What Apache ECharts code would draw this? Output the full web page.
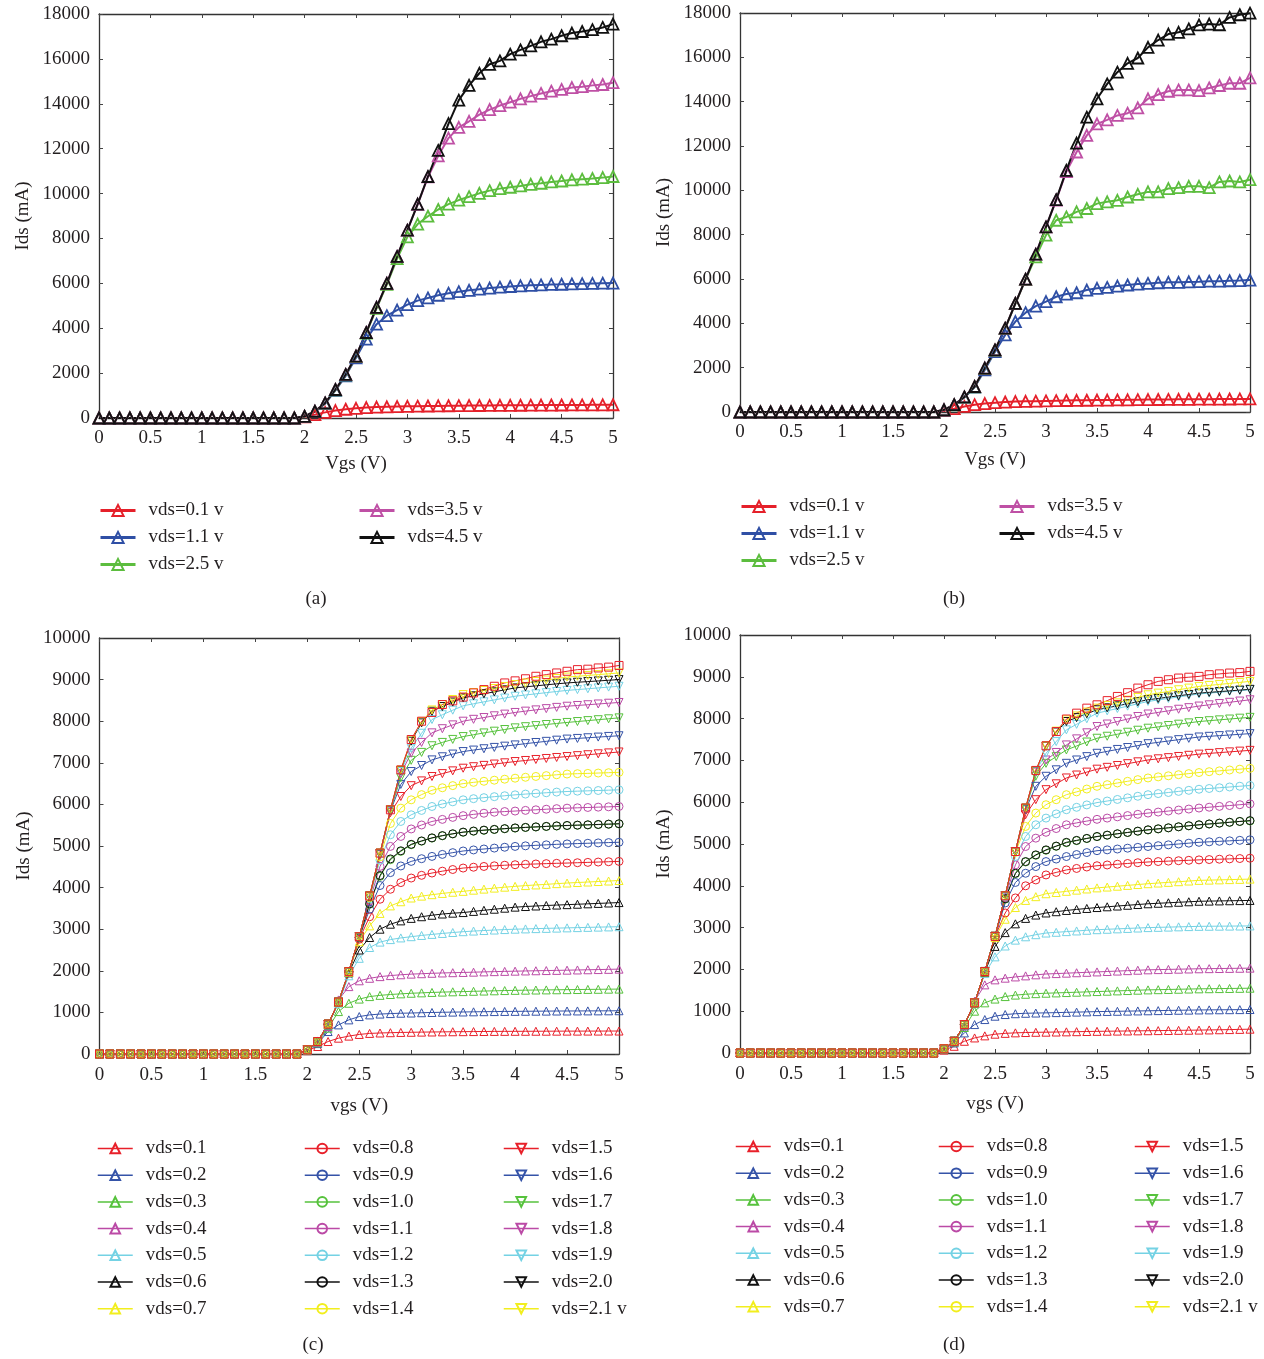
<!DOCTYPE html>
<html><head><meta charset="utf-8">
<script src="https://cdn.jsdelivr.net/npm/echarts@6/dist/echarts.min.js"></script>
<style>html,body{margin:0;padding:0;background:#fff}#c{width:1264px;height:1359px}</style>
</head><body><div id="c"></div><script>
// ---------- DATA ----------
const vgs = [0,0.1,0.2,0.3,0.4,0.5,0.6,0.7,0.8,0.9,1.0,1.1,1.2,1.3,1.4,1.5,1.6,1.7,1.8,1.9,
  2.0,2.1,2.2,2.3,2.4,2.5,2.6,2.7,2.8,2.9,3.0,3.1,3.2,3.3,3.4,3.5,3.6,3.7,3.8,3.9,
  4.0,4.1,4.2,4.3,4.4,4.5,4.6,4.7,4.8,4.9,5.0];
// Ids below threshold (vgs = 0 ... 1.9 V), read as ~0 mA in every panel
const offRegion = [0,0,0,0,0,0,0,0,0,0,0,0,0,0,0,0,0,0,0,0];
// The following arrays hold Ids (mA) for vgs = 2.0 ... 5.0 V
const namesAB = ['vds=0.1 v','vds=1.1 v','vds=2.5 v','vds=3.5 v','vds=4.5 v'];
const xTicks = ['0','0.5','1','1.5','2','2.5','3','3.5','4','4.5','5'];
const yTicksAB = [0,2000,4000,6000,8000,10000,12000,14000,16000,18000];
const yTicksCD = [0,1000,2000,3000,4000,5000,6000,7000,8000,9000,10000];

// panel (a)
const a_vds01 = [50,150,250,330,390,430,465,485,500,510,520,528,535,540,545,550,553,556,560,563,566,569,572,575,578,580,582,584,586,588,590];
const a_vds11 = [70,280,640,1230,1880,2680,3510,4180,4560,4810,5050,5230,5350,5470,5560,5630,5690,5740,5790,5830,5860,5890,5910,5930,5950,5960,5975,5985,5995,6005,6010];
const a_vds25 = [70,290,660,1250,1920,2740,3780,4880,5950,7100,8070,8640,8990,9290,9530,9710,9860,10010,10130,10220,10280,10340,10410,10460,10520,10560,10610,10640,10670,10710,10760];
const a_vds35 = [75,300,670,1270,1940,2760,3810,4930,6000,7200,8370,9520,10740,11680,12470,12950,13220,13520,13740,13920,14070,14220,14340,14460,14560,14640,14720,14760,14820,14860,14940];
const a_vds45 = [75,300,670,1270,1940,2760,3810,4930,6000,7200,8370,9530,10760,11920,13120,14160,14820,15360,15760,15910,16210,16400,16580,16760,16880,17030,17150,17220,17300,17400,17550];

// panel (b)
const b_vds01 = [60,150,250,330,380,420,450,470,480,490,500,510,518,525,530,536,540,545,550,555,560,563,566,570,574,578,580,583,586,588,590];
const b_vds11 = [90,320,660,1120,1900,2720,3480,4080,4480,4780,4980,5200,5320,5380,5500,5580,5620,5680,5730,5770,5800,5830,5850,5850,5870,5880,5900,5900,5920,5930,5950];
const b_vds25 = [95,325,670,1140,1960,2790,3770,4890,5980,7000,7980,8650,8800,9030,9180,9400,9480,9550,9700,9820,9930,9930,10080,10120,10180,10180,10120,10380,10420,10380,10480];
const b_vds35 = [100,330,680,1150,1980,2800,3780,4900,5990,7120,8350,9560,10850,11730,12480,13000,13180,13380,13480,13720,14130,14320,14470,14530,14530,14500,14620,14730,14830,14830,15070];
const b_vds45 = [100,330,680,1150,1980,2800,3780,4900,5990,7120,8350,9580,10900,12130,13300,14130,14800,15330,15730,15970,16450,16780,17050,17130,17280,17460,17500,17470,17800,17920,17990];

// panel (c)
const namesCD = ['vds=0.1','vds=0.2','vds=0.3','vds=0.4','vds=0.5','vds=0.6','vds=0.7',
  'vds=0.8','vds=0.9','vds=1.0','vds=1.1','vds=1.2','vds=1.3','vds=1.4',
  'vds=1.5','vds=1.6','vds=1.7','vds=1.8','vds=1.9','vds=2.0','vds=2.1 v'];
const c01 = [80,180,300,380,430,470,495,505,512,518,522,526,529,532,535,537,539,541,543,544,545,546,547,548,549,550,550,551,551,552,552];
const c02 = [90,250,540,700,820,900,940,960,972,980,985,992,998,1003,1007,1010,1014,1017,1020,1023,1025,1027,1029,1031,1033,1034,1035,1036,1037,1038,1040];
const c03 = [95,270,620,1020,1220,1320,1380,1410,1430,1446,1460,1470,1480,1488,1495,1500,1507,1513,1519,1525,1530,1534,1538,1541,1544,1547,1550,1553,1555,1558,1560];
const c04 = [95,280,660,1300,1620,1760,1820,1860,1885,1905,1920,1930,1940,1948,1955,1960,1967,1974,1980,1986,1991,1996,2001,2006,2010,2015,2020,2025,2030,2035,2040];
const c05 = [100,290,690,1220,1880,2300,2560,2690,2750,2790,2820,2850,2875,2898,2920,2940,2955,2968,2980,2991,3000,3007,3014,3020,3026,3032,3038,3044,3050,3055,3060];
const c06 = [100,295,700,1240,1950,2500,2800,3000,3120,3200,3260,3300,3335,3365,3385,3400,3428,3455,3480,3505,3530,3545,3558,3570,3580,3590,3600,3610,3620,3630,3640];
const c07 = [100,295,705,1245,1965,2700,3080,3380,3560,3660,3750,3795,3830,3860,3888,3910,3938,3964,3988,4010,4030,4048,4064,4078,4095,4110,4122,4134,4146,4158,4170];
const c08 = [100,298,708,1248,1975,2760,3300,3720,3960,4120,4230,4295,4350,4395,4435,4470,4490,4508,4524,4538,4550,4560,4568,4576,4584,4590,4598,4606,4614,4622,4630];
const c09 = [100,298,710,1248,1978,2790,3480,4050,4360,4520,4630,4695,4750,4798,4840,4880,4905,4928,4950,4970,4990,5004,5016,5028,5040,5050,5058,5066,5074,5082,5090];
const c10 = [100,300,712,1250,1978,2800,3600,4270,4670,4870,5030,5115,5190,5245,5290,5330,5355,5376,5396,5414,5430,5444,5456,5468,5480,5490,5498,5506,5514,5522,5530];
const c11 = [100,300,712,1250,1980,2808,3680,4510,4990,5230,5410,5505,5590,5640,5688,5730,5760,5788,5812,5828,5840,5856,5870,5884,5898,5910,5918,5926,5934,5942,5950];
const c12 = [100,300,714,1250,1980,2810,3730,4660,5270,5590,5750,5855,5950,6010,6062,6110,6138,6162,6186,6208,6230,6248,6264,6280,6296,6310,6318,6326,6334,6342,6350];
const c13 = [100,300,712,1250,1980,2802,3610,4290,4690,4885,5040,5122,5196,5250,5294,5334,5360,5382,5400,5418,5435,5448,5460,5472,5484,5494,5502,5510,5518,5526,5536];
const c14 = [100,300,715,1250,1980,2812,3760,4740,5540,5910,6110,6235,6340,6400,6452,6500,6530,6556,6582,6606,6630,6652,6672,6692,6712,6730,6738,6746,6754,6762,6770];
const c15 = [100,300,716,1250,1980,2815,3780,4790,5800,6190,6450,6565,6670,6740,6806,6870,6906,6938,6970,7000,7030,7056,7080,7104,7128,7150,7172,7194,7216,7238,7260];
const c16 = [100,300,716,1250,1980,2816,3790,4805,5840,6480,6790,6935,7070,7145,7210,7270,7306,7338,7370,7400,7430,7460,7488,7516,7544,7570,7586,7602,7618,7634,7650];
const c17 = [100,300,718,1250,1980,2818,3795,4815,5855,6640,7060,7250,7410,7490,7562,7630,7675,7718,7760,7800,7840,7868,7894,7920,7946,7970,7992,8014,8036,8058,8080];
const c18 = [100,300,718,1250,1980,2818,3798,4820,5862,6740,7230,7490,7720,7820,7912,8000,8045,8088,8130,8170,8210,8242,8272,8302,8332,8360,8378,8396,8414,8432,8450];
const c19 = [100,300,718,1250,1980,2820,3800,4826,5866,6790,7350,7710,8040,8155,8265,8370,8418,8465,8512,8556,8600,8630,8658,8686,8714,8740,8760,8780,8800,8820,8840];
const c20 = [100,300,720,1250,1980,2820,3800,4828,5868,6815,7520,7960,8240,8352,8460,8560,8610,8658,8706,8754,8800,8826,8850,8874,8898,8920,8936,8952,8968,8984,9000];
const c21 = [100,300,720,1250,1980,2820,3800,4830,5870,6825,7550,7990,8270,8400,8522,8640,8690,8738,8786,8834,8880,8918,8954,8990,9026,9060,9080,9100,9120,9140,9160];
const cTop = [100,300,720,1250,1980,2820,3800,4830,5870,6830,7560,8000,8210,8400,8490,8580,8680,8760,8840,8920,8970,9020,9080,9120,9160,9200,9240,9250,9280,9300,9340];

// panel (d)
const d01 = [70,160,280,360,410,450,470,482,490,495,498,502,506,510,514,518,521,524,527,530,533,536,539,542,545,548,552,556,560,565,570];
const d02 = [85,240,480,680,800,880,920,940,950,956,960,966,972,978,984,990,994,998,1002,1006,1010,1014,1018,1022,1026,1030,1032,1034,1036,1038,1040];
const d03 = [95,265,610,1000,1200,1290,1350,1385,1405,1420,1430,1438,1446,1454,1462,1470,1478,1486,1494,1502,1510,1515,1520,1525,1530,1535,1538,1541,1544,1547,1550];
const d04 = [95,275,650,1240,1630,1750,1790,1820,1845,1870,1890,1900,1910,1920,1930,1940,1950,1960,1970,1980,1990,1995,2000,2005,2010,2015,2018,2021,2024,2027,2030];
const d05 = [100,280,670,1180,1900,2300,2560,2700,2780,2830,2870,2888,2904,2920,2936,2950,2960,2970,2980,2990,3000,3006,3012,3018,3024,3030,3032,3034,3036,3038,3040];
const d06 = [100,280,675,1195,1930,2550,2880,3090,3220,3300,3350,3380,3410,3435,3458,3480,3498,3516,3534,3552,3570,3582,3594,3606,3618,3630,3634,3638,3642,3646,3650];
const d07 = [100,280,678,1198,1940,2760,3200,3480,3650,3740,3810,3840,3868,3896,3924,3950,3970,3990,4010,4030,4050,4066,4082,4098,4114,4130,4136,4142,4148,4154,4160];
const d08 = [100,280,680,1200,1945,2780,3350,3710,4000,4140,4260,4320,4380,4415,4450,4480,4498,4516,4534,4552,4570,4580,4590,4600,4610,4620,4628,4636,4644,4652,4660];
const d09 = [100,280,680,1200,1948,2785,3590,4080,4300,4460,4580,4640,4700,4748,4795,4840,4860,4880,4900,4920,4940,4960,4980,5000,5020,5040,5052,5064,5076,5088,5100];
const d10 = [100,280,680,1200,1950,2788,3680,4290,4570,4730,4850,4945,5030,5080,5130,5175,5210,5245,5275,5305,5335,5360,5385,5410,5435,5458,5478,5498,5518,5538,5550];
const d11 = [100,280,680,1200,1950,2790,3720,4500,4940,5140,5280,5370,5460,5505,5548,5590,5620,5650,5680,5710,5740,5764,5788,5812,5836,5860,5880,5900,5920,5940,5960];
const d12 = [100,280,680,1200,1950,2790,3740,4700,5180,5460,5620,5720,5820,5878,5935,5990,6028,6066,6104,6142,6180,6206,6232,6258,6284,6310,6328,6346,6364,6382,6400];
const d13 = [100,280,680,1200,1950,2788,3690,4300,4580,4740,4860,4950,5040,5087,5134,5180,5212,5244,5276,5308,5340,5364,5388,5412,5436,5460,5480,5500,5520,5540,5560];
const d14 = [100,280,680,1200,1950,2790,3760,4800,5420,5740,5940,6060,6180,6247,6315,6380,6420,6460,6500,6540,6580,6606,6632,6658,6684,6710,6730,6750,6770,6790,6810];
const d15 = [100,280,680,1200,1950,2790,3760,4810,5700,6060,6300,6440,6580,6650,6720,6790,6834,6878,6922,6966,7010,7038,7066,7094,7122,7150,7168,7186,7204,7222,7240];
const d16 = [100,280,680,1200,1950,2790,3760,4815,5820,6380,6620,6775,6930,7010,7090,7170,7216,7262,7308,7354,7400,7432,7464,7496,7528,7560,7576,7592,7608,7624,7640];
const d17 = [100,280,680,1200,1950,2790,3760,4818,5840,6620,6930,7090,7250,7345,7440,7530,7578,7626,7674,7722,7770,7802,7834,7866,7898,7930,7950,7970,7990,8010,8030];
const d18 = [100,280,680,1200,1950,2790,3760,4820,5850,6720,7010,7190,7370,7515,7660,7810,7870,7930,7990,8050,8110,8148,8186,8224,8262,8300,8330,8360,8390,8420,8450];
const d19 = [100,280,680,1200,1950,2790,3760,4820,5855,6740,7170,7450,7730,7863,7996,8130,8186,8242,8298,8354,8410,8446,8482,8518,8554,8590,8610,8630,8650,8670,8690];
const d20 = [100,280,680,1200,1950,2790,3760,4820,5858,6750,7340,7680,7930,8023,8116,8210,8258,8306,8354,8402,8450,8482,8514,8546,8578,8610,8628,8646,8664,8682,8700];
const d21 = [100,280,680,1200,1950,2790,3760,4820,5860,6755,7345,7700,7970,8063,8156,8250,8314,8378,8442,8506,8570,8610,8650,8690,8730,8770,8794,8818,8842,8866,8890];
const dTop = [100,280,680,1200,1950,2790,3760,4820,5860,6760,7350,7690,7990,8130,8250,8330,8430,8530,8620,8730,8810,8890,8930,8970,8990,9010,9050,9070,9090,9100,9130];

// ---------- STYLE ----------
const FONT = '"Liberation Serif", "DejaVu Serif", serif';
const TXT = '#231f20';
const colAB = ['#e5202a','#2f4fa5','#5cbd3e','#bf50a5','#111111'];
const col7 = ['#e8202a','#3553a8','#56c23c','#bb4aa6','#74d2e4','#111111','#f2ee1e'];

const grids = [
  {left:99, top:14, width:514, height:404},
  {left:740, top:13, width:510, height:399},
  {left:99.5, top:638, width:519.5, height:416},
  {left:740, top:635, width:510, height:418}
];
const yMax = [18000,18000,10000,10000];
const yInt = [2000,2000,1000,1000];
const xName = ['Vgs (V)','Vgs (V)','vgs (V)','vgs (V)'];
const xGap = [37,39,43,42];
const xLabMargin = [11,11,12,12];

const xAxes = [], yAxes = [];
grids.forEach((g,i)=>{
  const lineS = {show:true, onZero:false, lineStyle:{color:'#333', width:1.3}};
  const tick = {show:true, inside:true, length:4, lineStyle:{color:'#444', width:1}};
  xAxes.push({gridIndex:i, type:'value', min:0, max:5, interval:0.5, position:'bottom',
    name:xName[i], nameLocation:'middle', nameGap:xGap[i],
    nameTextStyle:{fontFamily:FONT, fontSize:19, color:TXT},
    axisLine:lineS, axisTick:tick, splitLine:{show:false},
    axisLabel:{margin:xLabMargin[i], fontFamily:FONT, fontSize:19, color:TXT,
      formatter:v=>xTicks[Math.round(v/0.5)]}});
  xAxes.push({gridIndex:i, type:'value', min:0, max:5, interval:0.5, position:'top',
    axisLine:lineS, axisTick:tick, splitLine:{show:false}, axisLabel:{show:false}});
  const yt = i<2 ? yTicksAB : yTicksCD;
  yAxes.push({gridIndex:i, type:'value', min:0, max:yMax[i], interval:yInt[i], position:'left',
    name:'Ids (mA)', nameLocation:'middle', nameGap:66, nameRotate:90,
    nameTextStyle:{fontFamily:FONT, fontSize:19, color:TXT},
    axisLine:lineS, axisTick:tick, splitLine:{show:false},
    axisLabel:{margin:9, fontFamily:FONT, fontSize:19, color:TXT,
      formatter:v=>String(yt[Math.round(v/yInt[i])])}});
  yAxes.push({gridIndex:i, type:'value', min:0, max:yMax[i], interval:yInt[i], position:'right',
    axisLine:lineS, axisTick:tick, splitLine:{show:false}, axisLabel:{show:false}});
});

function toData(arr){ const full = offRegion.concat(arr); return vgs.map((x,k)=>[x, full[k]]); }

const series = [];
function addSeries(p, name, arr, color, sym, rot, size, lw, bw){
  series.push({type:'line', name:name, xAxisIndex:p*2, yAxisIndex:p*2, data:toData(arr),
    symbol:sym, symbolRotate:rot, symbolSize:size, showSymbol:true, clip:false,
    animation:false, silent:true,
    lineStyle:{color:color, width:lw},
    itemStyle:{color:'rgba(255,255,255,0)', borderColor:color, borderWidth:bw}});
}
const A = [a_vds01,a_vds11,a_vds25,a_vds35,a_vds45];
const B = [b_vds01,b_vds11,b_vds25,b_vds35,b_vds45];
A.forEach((arr,k)=>addSeries(0, namesAB[k], arr, colAB[k], 'triangle', 0, 11, 2, 1.8));
B.forEach((arr,k)=>addSeries(1, namesAB[k], arr, colAB[k], 'triangle', 0, 11, 2, 1.8));
const C = [c01,c02,c03,c04,c05,c06,c07,c08,c09,c10,c11,c12,c13,c14,c15,c16,c17,c18,c19,c20,c21];
const D = [d01,d02,d03,d04,d05,d06,d07,d08,d09,d10,d11,d12,d13,d14,d15,d16,d17,d18,d19,d20,d21];
function symCD(k){ return k<7 ? ['triangle',0] : (k<14 ? ['circle',0] : ['triangle',180]); }
C.forEach((arr,k)=>{ const s=symCD(k); addSeries(2, namesCD[k], arr, col7[k%7], s[0], s[1], 8, 1, 1); });
addSeries(2, 'upper trace', cTop, '#e8202a', 'rect', 0, 8, 1, 1);
D.forEach((arr,k)=>{ const s=symCD(k); addSeries(3, namesCD[k], arr, col7[k%7], s[0], s[1], 8, 1, 1); });
addSeries(3, 'upper trace', dTop, '#e8202a', 'rect', 0, 8, 1, 1);

function legend(names, left, top, ih, gap, lw){
  return {orient:'vertical', left:left, top:top, padding:0, itemWidth:35, itemHeight:ih, itemGap:gap,
    selectedMode:false, data:names, lineStyle:{width:lw},
    textStyle:{fontFamily:FONT, fontSize:19, color:TXT, padding:[0,0,0,8]}};
}
const legends = [
  legend(namesAB.slice(0,3), 99, 501, 14, 8, 3),
  legend(namesAB.slice(3), 358, 501, 14, 8, 3),
  legend(namesAB.slice(0,3), 740, 497, 14, 8, 3),
  legend(namesAB.slice(3), 998, 497, 14, 8, 3),
  legend(namesCD.slice(0,7), 97, 1139, 12, 7.7, 1.5),
  legend(namesCD.slice(7,14), 304, 1139, 12, 7.7, 1.5),
  legend(namesCD.slice(14), 503, 1139, 12, 7.7, 1.5),
  legend(namesCD.slice(0,7), 735, 1137, 12, 7.7, 1.5),
  legend(namesCD.slice(7,14), 938, 1137, 12, 7.7, 1.5),
  legend(namesCD.slice(14), 1134, 1137, 12, 7.7, 1.5)
];

const caps = [['(a)',316,599],['(b)',954,599],['(c)',313,1345],['(d)',954,1345]];
const graphic = caps.map(c=>({type:'text', x:c[1], y:c[2],
  style:{text:c[0], fontFamily:FONT, fontSize:19, fill:TXT, align:'center', verticalAlign:'middle'}}));

const chart = echarts.init(document.getElementById('c'), null, {renderer:'canvas'});
chart.setOption({animation:false, backgroundColor:'#fff', grid:grids, xAxis:xAxes, yAxis:yAxes,
  legend:legends, series:series, graphic:graphic});
</script></body></html>
